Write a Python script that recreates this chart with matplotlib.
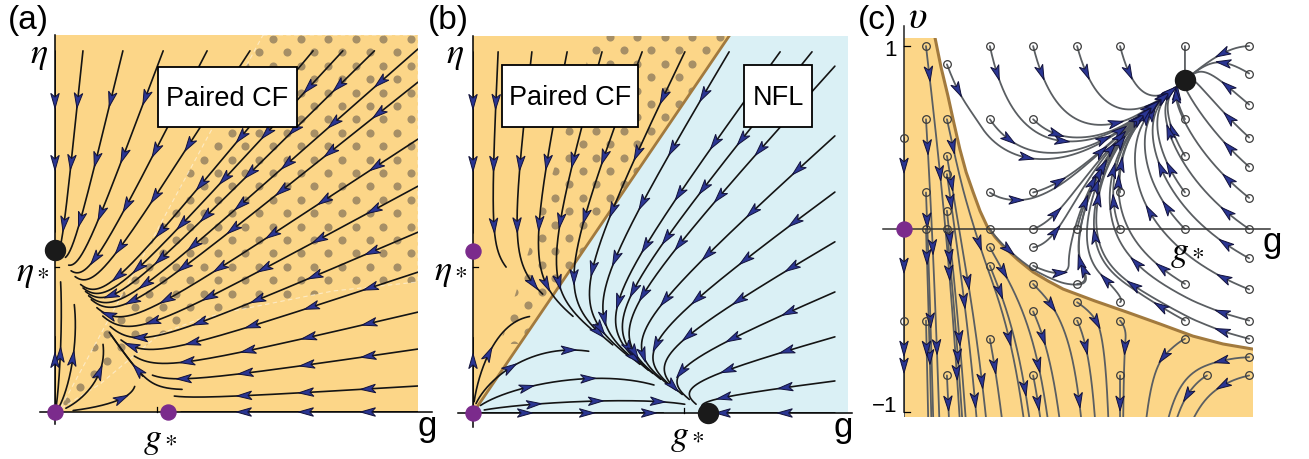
import numpy as np
import matplotlib.pyplot as plt
from matplotlib.patches import Polygon, Rectangle

plt.rcParams['mathtext.fontset'] = 'stix'
SANS = 'Liberation Sans'

W, H = 1309, 460

ORANGE = '#fcd688'
BLUE_BG = '#daf0f5'
BROWN = '#a27a3e'
DOT = '#a68f66'
ARROW = '#2a3592'
PURPLE = '#7b2b8c'

# ---------------- data ----------------
# panel (a): eta*, g* fixed points and coupling of the flow
a_gstar, a_etastar = 0.31, 0.43
a_cross = (1.1, 1.0)
a_top_g = [0.077, 0.187, 0.298, 0.419, 0.537, 0.711, 0.793, 0.88]
a_top_eta = 0.958
a_top_T = [5.0, 6.0, 7.0, 8.0, 8.0, 8.0, 8.0, 8.0]
a_right_g = 1.0
a_right_eta = [0.963, 0.875, 0.724, 0.599, 0.477, 0.371, 0.265, 0.167, 0.069]
a_right_T = [8.0, 8.0, 8.0, 8.0, 8.0, 7.5, 7.0, 6.0, 5.0]
a_origin_g = [0.004, 0.012, 0.03, 0.05]
a_origin_eta = [0.02, 0.015, 0.01, 0.004]
a_origin_T = [11.0, 11.0, 11.0, 11.0]
a_axis_g = [0.0, 0.0, 0.005, 1.0]
a_axis_eta = [0.958, 0.005, 0.0, 0.0]
a_axis_T = [4.0, 10.0, 10.0, 6.0]
a_extra_g = [0.242, 0.35]
a_extra_eta = [0.095, 0.06]
a_extra_T = [9.0, 16.0]
a_tick_g, a_tick_eta = 0.281, 0.385
a_dots_g = [0.573, 1.0, 1.0, 0.766, 0.49, 0.40, 0.289, 0.207, 0.124, 0.014]
a_dots_eta = [1.0, 1.0, 0.345, 0.321, 0.268, 0.247, 0.207, 0.141, 0.074, 0.008]

# panel (b)
b_gstar, b_etastar = 0.627, 0.43
b_cross = (1.0, 1.0)
b_top_g = [0.067, 0.157, 0.251, 0.344, 0.451, 0.565, 0.683, 0.819, 0.904]
b_top_eta = 0.958
b_top_T = [6.0, 6.5, 7.0, 7.0, 7.5, 8.0, 8.0, 8.0, 8.0]
b_right_g = 0.965
b_right_eta = [0.920, 0.735, 0.586, 0.454, 0.321, 0.202, 0.085]
b_right_T = [8.5, 8.5, 8.5, 8.5, 8.5, 8.5, 8.5]
b_origin_g = [0.003, 0.008, 0.02, 0.03]
b_origin_eta = [0.03, 0.025, 0.02, 0.008]
b_origin_T = [9.0, 9.0, 9.5, 9.5]
b_axis_g = [0.0, 0.0, 0.005, 0.965]
b_axis_eta = [0.958, 0.005, 0.0, 0.0]
b_axis_T = [4.0, 10.0, 10.0, 6.0]
b_tick_g, b_tick_eta = 0.563, 0.387
b_phase_g = [0.0, 0.683]          # Paired CF / NFL boundary
b_phase_eta = [0.0, 1.0]
b_dots_g = [0.325, 0.683, 0.125, 0.072]
b_dots_eta = [1.0, 1.0, 0.183, 0.183]

# panel (c)
c_fp = (0.805, 0.814)
c_bnd_g = [0.089, 0.106, 0.126, 0.143, 0.160, 0.178, 0.198, 0.218, 0.238, 0.261, 0.284,
           0.327, 0.370, 0.413, 0.456, 0.547, 0.639, 0.734, 0.828, 0.914, 1.0]
c_bnd_v = [1.044, 0.885, 0.727, 0.579, 0.437, 0.311, 0.202, 0.098, 0.016, -0.044, -0.093,
           -0.169, -0.235, -0.284, -0.328, -0.393, -0.454, -0.519, -0.585, -0.628, -0.656]
c_seed_g = [0.063, 0.246, 0.37, 0.496, 0.619, 0.805, 0.989,
            0.123, 0.989, 0.989,
            0.063, 0.123, 0.246, 0.37, 0.805,
            0.0, 0.989, 0.123, 0.805, 0.989, 0.123,
            0.063, 0.246, 0.37, 0.619, 0.805, 0.989, 0.123,
            0.063, 0.123, 0.246, 0.37, 0.496, 0.619, 0.805, 0.989,
            0.246, 0.37, 0.989, 0.246, 0.37,
            0.37, 0.496, 0.805, 0.989, 0.496, 0.619, 0.37,
            0.0, 0.063, 0.496, 0.619, 0.805, 0.989,
            0.246, 0.805, 0.989, 0.989,
            0.123, 0.37, 0.619, 0.868, 0.989]
c_seed_v = [1.0, 1.0, 1.0, 1.0, 1.0, 1.0, 1.0,
            0.9, 0.85, 0.68,
            0.6, 0.6, 0.6, 0.6, 0.6,
            0.5, 0.5, 0.4, 0.4, 0.34, 0.3,
            0.2, 0.2, 0.2, 0.2, 0.2, 0.17, 0.1,
            0.0, 0.0, 0.0, 0.0, 0.0, 0.0, 0.0, 0.0,
            -0.1, -0.1, -0.16, -0.2, -0.2,
            -0.3, -0.3, -0.3, -0.33, -0.4, -0.4, -0.45,
            -0.5, -0.5, -0.5, -0.5, -0.5, -0.5,
            -0.6, -0.6, -0.6, -0.7,
            -0.8, -0.8, -0.8, -0.8, -0.8]
c_T = 10.0

fig = plt.figure(figsize=(W / 100, H / 100), dpi=100)


def pxbox(x0, y0, x1, y1):
    return [x0 / W, 1 - y1 / H, (x1 - x0) / W, (y1 - y0) / H]


def ftext(x, y, s, **kw):
    fig.text(x / W, 1 - y / H, s, **kw)


def box_label(x0, y0, x1, y1, s):
    fig.add_artist(Rectangle((x0 / W, 1 - y1 / H), (x1 - x0) / W, (y1 - y0) / H,
                             transform=fig.transFigure, fc='white', ec='black', lw=1.3, zorder=10))
    ftext((x0 + x1) / 2, (y0 + y1) / 2 + 1, s, ha='center', va='center', fontsize=19.5,
          family=SANS, zorder=11)


def trace(field, seeds, t_end, dt, lo, hi):
    P = np.array(seeds, float)
    t_end = np.broadcast_to(np.asarray(t_end, float), (len(P),))
    n = int(np.ceil(t_end.max() / dt))
    hist = np.full((n + 1, len(P), 2), np.nan)
    hist[0] = P
    alive = np.ones(len(P), bool)
    for k in range(n):
        alive &= (k * dt < t_end)
        if not alive.any():
            break
        Q = P[alive]
        k1 = field(Q)
        k2 = field(Q + 0.5 * dt * k1)
        k3 = field(Q + 0.5 * dt * k2)
        k4 = field(Q + dt * k3)
        Qn = Q + dt / 6 * (k1 + 2 * k2 + 2 * k3 + k4)
        idx = np.where(alive)[0]
        P[idx] = Qn
        hist[k + 1, idx] = Qn
        out = np.any((Qn < lo) | (Qn > hi), axis=1) | (np.hypot(k1[:, 0], k1[:, 1]) < 2e-3)
        alive[idx[out]] = False
    return [hist[:, i][~np.isnan(hist[:, i, 0])] for i in range(len(P))]


def arrows(ax, path, start, step, L=15, Wd=8.5, fc=ARROW):
    pts = ax.transData.transform(path)
    seg = np.hypot(*np.diff(pts, axis=0).T)
    keep = np.concatenate([[True], seg > 1e-6])
    pts = pts[keep]
    s = np.concatenate([[0], np.cumsum(np.hypot(*np.diff(pts, axis=0).T))])
    if len(s) < 3:
        return
    inv = ax.transData.inverted()
    pos = start
    while pos < s[-1] - 12:
        a = np.array([np.interp(pos - 3, s, pts[:, 0]), np.interp(pos - 3, s, pts[:, 1])])
        b = np.array([np.interp(pos + 3, s, pts[:, 0]), np.interp(pos + 3, s, pts[:, 1])])
        d = b - a
        nd = np.hypot(*d)
        if nd > 0:
            d = d / nd
            n = np.array([-d[1], d[0]])
            c = (a + b) / 2
            tip = c + d * L / 2
            verts = [tip, tip - d * L + n * Wd / 2, tip - d * L * 0.75, tip - d * L - n * Wd / 2]
            ax.add_patch(Polygon(inv.transform(verts), closed=True, fc=fc, ec='#12123a',
                                 lw=0.7, zorder=4, clip_on=False))
        pos += step


def hex_dots(ax, x0, y0, dx, dy, clip):
    xs, ys = [], []
    for r in range(-40, 40):
        off = (r % 2) * dx / 2
        for c in range(-30, 30):
            xs.append(x0 + off + c * dx)
            ys.append(H - (y0 + r * dy))
    d = ax.transData.inverted().transform(np.column_stack([xs, ys]))
    sc = ax.scatter(d[:, 0], d[:, 1], s=34, c=DOT, lw=0, zorder=1)
    sc.set_clip_path(clip)


def lv_field(gs, es, cr):
    def f(Q):
        g, e = Q[:, 0], Q[:, 1]
        return np.column_stack([g * (gs - g - cr[0] * e), e * (es - e - cr[1] * g)])
    return f


def new_axes(box, xlim, ylim):
    ax = fig.add_axes(pxbox(*box))
    ax.set_xlim(*xlim)
    ax.set_ylim(*ylim)
    ax.set_autoscale_on(False)
    ax.axis('off')
    return ax


def draw_flow(ax, paths, color, lw, start, step):
    for p in paths:
        ax.plot(p[:, 0], p[:, 1], color=color, lw=lw, zorder=2, solid_capstyle='round')
        arrows(ax, p, start, step)


def gather(groups):
    seeds, Ts = [], []
    for gs, es, ts in groups:
        gs = np.broadcast_to(gs, np.shape(ts))
        es = np.broadcast_to(es, np.shape(ts))
        for g, e, t in zip(gs, es, ts):
            seeds.append((g, e))
            Ts.append(t)
    return seeds, Ts


# ---------------- panel (a) ----------------
axa = new_axes((55, 36, 418, 413), (0, 1), (0, 1))
axa.add_patch(Rectangle((0, 0), 1, 1, fc=ORANGE, ec='none', zorder=0))
clip_a = Polygon(np.column_stack([a_dots_g, a_dots_eta]), closed=True, fc='none',
                 ec=(1, 1, 1, 0.5), lw=0.8, ls=(0, (4, 3)), zorder=1.5)
axa.add_patch(clip_a)
hex_dots(axa, 273, 40, 27.6, 13.4, clip_a)

seeds, Ts = gather([(a_top_g, a_top_eta, a_top_T), (a_right_g, a_right_eta, a_right_T),
                    (a_origin_g, a_origin_eta, a_origin_T), (a_axis_g, a_axis_eta, a_axis_T),
                    (a_extra_g, a_extra_eta, a_extra_T)])
fa = lv_field(a_gstar, a_etastar, a_cross)
draw_flow(axa, trace(fa, seeds, Ts, 0.004, (-0.001, -0.001), (1.001, 1.001)),
          '#141414', 1.2, 50, 62)

axa.plot([-0.041, 1.039], [0, 0], color='k', lw=1.1, clip_on=False, zorder=3)
axa.plot([0, 0], [-0.032, 1.0], color='k', lw=1.1, clip_on=False, zorder=3)
axa.plot([0, 0.012], [a_tick_eta] * 2, color='k', lw=0.9, clip_on=False, zorder=3)
axa.plot([a_tick_g] * 2, [0, 0.013], color='k', lw=0.9, clip_on=False, zorder=3)
axa.plot([0], [a_etastar], 'o', color='#1a1a1a', ms=14.4, clip_on=False, zorder=6)
axa.plot([0, a_gstar], [0, 0], 'o', color=PURPLE, ms=10.8, lw=0, clip_on=False, zorder=6)

ftext(8, 20, '(a)', fontsize=24, family=SANS, va='center')
ftext(39, 55, r'$\eta$', fontsize=26, ha='center', va='center')
ftext(50, 273, r'$\eta_*$', fontsize=26, ha='right', va='center')
ftext(143, 440, r'$g_*$', fontsize=26, ha='left', va='center')
ftext(427, 436, 'g', fontsize=25, family=SANS, ha='center', va='baseline')
box_label(158, 68, 297, 128, 'Paired CF')

# ---------------- panel (b) ----------------
axb = new_axes((473, 37, 848, 414), (0, 1), (0, 1))
axb.add_patch(Rectangle((0, 0), 1, 1, fc=BLUE_BG, ec='none', zorder=0))
axb.add_patch(Polygon([(b_phase_g[0], b_phase_eta[0]), (b_phase_g[1], b_phase_eta[1]), (0, 1)],
                      closed=True, fc=ORANGE, ec='none', zorder=0.5))
clip_b = Polygon(np.column_stack([b_dots_g, b_dots_eta]), closed=True, fc='none', ec='none')
axb.add_patch(clip_b)
hex_dots(axb, 610, 38, 27.4, 13.4, clip_b)
axb.plot(b_phase_g, b_phase_eta, color=BROWN, lw=2.0, zorder=1.8)

seeds, Ts = gather([(b_top_g, b_top_eta, b_top_T), (b_right_g, b_right_eta, b_right_T),
                    (b_origin_g, b_origin_eta, b_origin_T), (b_axis_g, b_axis_eta, b_axis_T)])
fb = lv_field(b_gstar, b_etastar, b_cross)
draw_flow(axb, trace(fb, seeds, Ts, 0.004, (-0.001, -0.001), (1.001, 1.001)),
          '#141414', 1.2, 50, 62)

axb.plot([-0.04, 1.01], [0, 0], color='k', lw=1.1, clip_on=False, zorder=3)
axb.plot([0, 0], [-0.037, 1.0], color='k', lw=1.1, clip_on=False, zorder=3)
axb.plot([0, 0.012], [b_tick_eta] * 2, color='k', lw=0.9, clip_on=False, zorder=3)
axb.plot([b_tick_g] * 2, [0, 0.013], color='k', lw=0.9, clip_on=False, zorder=3)
axb.plot([0, 0], [0, b_etastar], 'o', color=PURPLE, ms=10.8, lw=0, clip_on=False, zorder=6)
axb.plot([b_gstar], [0], 'o', color='#1a1a1a', ms=14.4, clip_on=False, zorder=6)

ftext(428, 20, '(b)', fontsize=24, family=SANS, va='center')
ftext(455, 55, r'$\eta$', fontsize=26, ha='center', va='center')
ftext(468, 272, r'$\eta_*$', fontsize=26, ha='right', va='center')
ftext(670, 437, r'$g_*$', fontsize=26, ha='left', va='center')
ftext(843, 437, 'g', fontsize=25, family=SANS, ha='center', va='baseline')
box_label(502, 66, 638, 128, 'Paired CF')
box_label(744, 66, 812, 128, 'NFL')

# ---------------- panel (c) ----------------
axc = new_axes((904, 39, 1253, 418), (0, 1), (-1.027, 1.044))
bg, bv = np.array(c_bnd_g), np.array(c_bnd_v)
fill = np.vstack([[0, 1.044], np.column_stack([bg, bv]), [1.0, -1.027], [0, -1.027]])
axc.add_patch(Polygon(fill, closed=True, fc=ORANGE, ec='none', zorder=0))
axc.plot(bg, bv, color=BROWN, lw=2.2, zorder=1.8)

slope0 = (bv[1] - bv[0]) / (bg[1] - bg[0])


def bnd(g):
    return np.where(g < bg[0], bv[0] + slope0 * (g - bg[0]), np.interp(g, bg, bv))


def fc_field(Q):
    g, v = Q[:, 0], Q[:, 1]
    b = bnd(g)
    db = (bnd(g + 0.015) - bnd(g - 0.015)) / 0.03
    s = v - b
    vtop = np.maximum(c_fp[1] + (g - c_fp[0]), b + 0.15)
    up = np.clip(s / 0.15, 0, 1)
    dn = np.clip(-s / 0.15, 0, 1)
    G = g * (c_fp[0] - g) + 0.5 * g * np.minimum(v - vtop, 0) * up - 0.3 * g * g * dn
    k_up = np.where(v > vtop, 1.6, 1.3)
    V = db * G * np.exp(-np.abs(s) / 0.3) + np.where(s > 0, k_up * s * (vtop - v), 2.0 * s)
    return np.column_stack([G, V])


pc = trace(fc_field, list(zip(c_seed_g, c_seed_v)), c_T, 0.002, (-0.001, -1.03), (1.001, 1.05))
draw_flow(axc, pc, '#5a5e62', 1.3, 28, 100)
axc.plot(c_seed_g, c_seed_v, 'o', ms=5.5, mfc='none', mec='#3c3c3c', mew=0.9, lw=0, zorder=5,
         clip_on=False)

axc.plot([-0.06, 1.049], [0, 0], color='#333333', lw=1.1, clip_on=False, zorder=3)
axc.plot([0, 0], [-1.0, 1.109], color='#222222', lw=1.1, clip_on=False, zorder=3)
axc.plot([0, 0.017], [1, 1], color='k', lw=0.9, clip_on=False, zorder=3)
axc.plot([0, 0.017], [-1, -1], color='k', lw=0.9, clip_on=False, zorder=3)
axc.plot([c_fp[0]], [c_fp[1]], 'o', color='#1a1a1a', ms=14.4, clip_on=False, zorder=6)
axc.plot([0], [0], 'o', color=PURPLE, ms=10.8, clip_on=False, zorder=4.5)

ftext(858, 20, '(c)', fontsize=24, family=SANS, va='center')
ftext(918, 17, r'$\upsilon$', fontsize=28, ha='center', va='center')
ftext(897, 50, '1', fontsize=16, family=SANS, ha='right', va='center')
ftext(897, 407, '\u22121', fontsize=16, family=SANS, ha='right', va='center')
ftext(1170, 253, r'$g_*$', fontsize=26, ha='left', va='center')
ftext(1272, 252, 'g', fontsize=25, family=SANS, ha='center', va='baseline')

fig.savefig('out.png', dpi=100)
